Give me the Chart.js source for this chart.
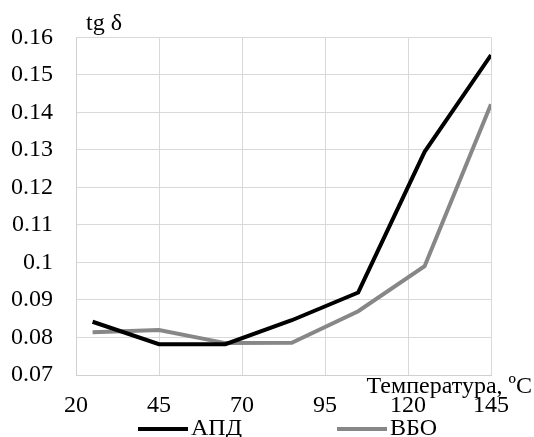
<!DOCTYPE html>
<html>
<head>
<meta charset="utf-8">
<script src="https://cdn.jsdelivr.net/npm/chart.js@4/dist/chart.umd.min.js"></script>
<style>
  body { margin: 0; background: #fff; }
</style>
</head>
<body>
<canvas id="chart" width="534" height="437"></canvas>
<script>
const temps = [25, 45, 65, 85, 105, 125, 145];
const apd = [0.0842, 0.0782, 0.0782, 0.0846, 0.092, 0.1295, 0.1553];
const vbo = [0.0814, 0.082, 0.0785, 0.0786, 0.087, 0.099, 0.1422];
const seriesNames = ['АПД', 'ВБО'];
const seriesColors = ['#000000', '#878787'];

const serif = "'Liberation Serif', 'Times New Roman', serif";
const fontSize = 24;

// axis titles and legend, drawn on top
const extras = {
  id: 'extras',
  afterDraw(chart) {
    const ctx = chart.ctx;
    ctx.save();
    ctx.fillStyle = '#000';
    ctx.font = fontSize + 'px ' + serif;
    ctx.textBaseline = 'alphabetic';
    ctx.textAlign = 'left';
    ctx.fillText('tg δ', 86, 30);
    ctx.textAlign = 'right';
    ctx.fillText('Температура, ºC', 532, 393);

    const starts = [138, 337];
    ctx.textAlign = 'left';
    chart.data.datasets.forEach((ds, i) => {
      ctx.strokeStyle = ds.borderColor;
      ctx.lineWidth = 4;
      ctx.beginPath();
      ctx.moveTo(starts[i], 429);
      ctx.lineTo(starts[i] + 50, 429);
      ctx.stroke();
      ctx.fillText(ds.label, starts[i] + 53, 435);
    });
    ctx.restore();
  }
};

new Chart(document.getElementById('chart'), {
  type: 'line',
  data: {
    datasets: [
      {
        label: seriesNames[0],
        data: temps.map((t, i) => ({ x: t, y: apd[i] })),
        borderColor: seriesColors[0],
        borderWidth: 4,
        pointRadius: 0,
        tension: 0
      },
      {
        label: seriesNames[1],
        data: temps.map((t, i) => ({ x: t, y: vbo[i] })),
        borderColor: seriesColors[1],
        borderWidth: 4,
        pointRadius: 0,
        tension: 0
      }
    ]
  },
  options: {
    responsive: false,
    animation: false,
    layout: { padding: { left: 0, right: 43, top: 27, bottom: 0 } },
    plugins: { legend: { display: false }, tooltip: { enabled: false } },
    scales: {
      x: {
        type: 'linear',
        min: 20,
        max: 145,
        ticks: {
          stepSize: 25,
          padding: 16,
          color: '#000',
          font: { family: serif, size: fontSize }
        },
        grid: { color: '#d9d9d9', drawTicks: false },
        border: { color: '#d0d0d0' },
        afterFit: s => { s.height = 62; }
      },
      y: {
        min: 0.07,
        max: 0.16,
        ticks: {
          stepSize: 0.01,
          padding: 23,
          color: '#000',
          font: { family: serif, size: fontSize },
          callback: v => String(Math.round(v * 100) / 100)
        },
        grid: { color: '#d9d9d9', drawTicks: false },
        border: { color: '#d0d0d0' },
        afterFit: s => { s.width = 76; }
      }
    }
  },
  plugins: [extras]
});
</script>
</body>
</html>
